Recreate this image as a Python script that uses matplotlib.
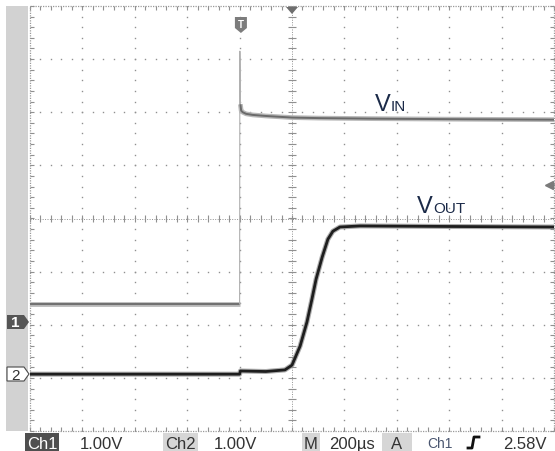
import numpy as np
import matplotlib.pyplot as plt
from matplotlib.patches import Polygon, Rectangle
from matplotlib.lines import Line2D

W, H = 555, 452

# scope settings
US_PER_DIV = 200
V_PER_DIV = 1.0
CH1_POS = -1.95     # ground marker position in divisions
CH2_POS = -2.93
TRIG_TIME = 805     # us
TRIG_LEVEL = 2.58   # V on Ch1

# Ch1 (VIN), time in us, volts above ground
vin_t = [0, 800, 801, 803, 806, 812, 825, 850, 900, 1000, 1100, 1300, 1600, 2000]
vin_v = [0.34, 0.34, 5.10, 4.10, 3.98, 3.95, 3.92, 3.90, 3.88, 3.85, 3.84, 3.83, 3.82, 3.81]

# Ch2 (VOUT)
vout_t = [0, 800, 803, 900, 973, 1000, 1031, 1057, 1076, 1092, 1115, 1137, 1156, 1183, 1260, 1600, 2000]
vout_v = [0.0, 0.0, 0.06, 0.05, 0.08, 0.17, 0.53, 0.98, 1.41, 1.79, 2.20, 2.54, 2.69, 2.77, 2.79, 2.78, 2.77]

status_labels = ["1.00V", "1.00V", "200µs", "2.58V"]

GRID = '#909090'
FONT = ['Liberation Sans', 'DejaVu Sans']


def px(x, y):
    return x / W, 1 - y / H


def box(fig, x0, y0, x1, y1, color, **kw):
    fig.patches.append(Rectangle(px(x0, y1), (x1 - x0) / W, (y1 - y0) / H,
                                 transform=fig.transFigure, facecolor=color,
                                 edgecolor='none', **kw))


def poly(fig, pts, face, edge='none'):
    fig.patches.append(Polygon([px(x, y) for x, y in pts], closed=True,
                               transform=fig.transFigure, facecolor=face,
                               edgecolor=edge, linewidth=0.8))


fig = plt.figure(figsize=(W / 100, H / 100), dpi=100)
ax = fig.add_axes([30 / W, 20 / H, 524 / W, 425 / H])
ax.set_xlim(0, 10 * US_PER_DIV)
ax.set_ylim(-4, 4)
ax.axis('off')

# graticule
xs = np.arange(0, 10 * US_PER_DIV + 1, US_PER_DIV / 5)
ys = np.arange(-4, 4.01, 0.2)
for k in range(1, 10):
    if k == 5:
        continue
    ax.plot([k * US_PER_DIV] * len(ys), ys, ls='none', marker='s', ms=1.0,
            mew=0, color=GRID)
for j in range(-3, 4):
    if j == 0:
        continue
    ax.plot(xs, [j] * len(xs), ls='none', marker='s', ms=1.0, mew=0, color=GRID)

# center lines with ticks
ax.axhline(0, ls=(0, (1, 1.5)), lw=0.7, color=GRID)
ax.axvline(5 * US_PER_DIV, ls=(0, (1, 1.5)), lw=0.7, color=GRID)
ax.vlines(xs, -0.07, 0.07, lw=0.8, color=GRID)
ax.hlines(ys, 5 * US_PER_DIV - 14, 5 * US_PER_DIV + 14, lw=0.8, color=GRID)

# border with ticks
for yb, d in [(4, -0.07), (-4, 0.07)]:
    ax.plot([0, 2000], [yb, yb], ls=(0, (1, 1)), lw=0.9, color='#9a9a9a', clip_on=False)
    ax.vlines(xs, yb, yb + d, lw=0.8, color=GRID, clip_on=False)
for xb, d in [(0, 14), (2000, -14)]:
    ax.plot([xb, xb], [-4, 4], ls=(0, (1, 1)), lw=0.9, color='#9a9a9a', clip_on=False)
    ax.hlines(ys, xb, xb + d, lw=0.8, color=GRID, clip_on=False)

# traces
vin_y = np.array(vin_v) / V_PER_DIV + CH1_POS
vout_y = np.array(vout_v) / V_PER_DIV + CH2_POS

ax.plot(vin_t[:2], vin_y[:2], color='#b8b8b8', lw=3.4, solid_capstyle='butt')
ax.plot(vin_t[:2], vin_y[:2], color='#707070', lw=1.4, solid_capstyle='butt')
ax.plot(vin_t[1:4], vin_y[1:4], color='#b0b0b0', lw=0.8)
ax.plot(vin_t[3:], vin_y[3:], color='#b8b8b8', lw=3.4, solid_capstyle='butt')
ax.plot(vin_t[3:], vin_y[3:], color='#6a6a6a', lw=1.4, solid_capstyle='butt')

ax.plot(vout_t, vout_y, color='#8a8a8a', lw=3.6, alpha=0.7, solid_capstyle='butt')
ax.plot(vout_t, vout_y, color='#1e1e1e', lw=2.0, solid_capstyle='butt')

# trigger level arrow on right edge
ax.plot([1982, 2000], [TRIG_LEVEL / V_PER_DIV + CH1_POS] * 2, color='#7a7a7a',
        lw=1.2, clip_on=False)
ax.plot([1982], [TRIG_LEVEL / V_PER_DIV + CH1_POS], marker='<', ms=6,
        color='#7a7a7a', clip_on=False)

# trigger marker "T" and trigger position triangle
xT = 30 + TRIG_TIME / US_PER_DIV * 52.4
poly(fig, [(xT - 6, 18), (xT + 6, 18), (xT + 6, 29), (xT, 34), (xT - 6, 29)], '#7c7c7c')
fig.text(*px(xT, 25), "T", fontsize=7, color='white', ha='center', va='center',
         family=FONT, weight='bold')
poly(fig, [(286, 8), (298, 8), (292, 15)], '#6e6e6e')

# left panel and ground markers
box(fig, 6, 7, 28, 432, '#d2d2d2')
poly(fig, [(7, 316), (24, 316), (29, 323), (24, 330), (7, 330)], '#555555')
fig.text(*px(15, 323.5), "1", fontsize=11, color='white', ha='center', va='center',
         family=FONT, weight='bold')
poly(fig, [(7, 368), (24, 368), (29, 375), (24, 382), (7, 382)], 'white', '#4a4a4a')
fig.text(*px(15, 375.5), "2", fontsize=11, color='#333333', ha='center', va='center',
         family=FONT)

# trace labels
lbl = '#1b2a48'
fig.text(*px(375, 111), "V", fontsize=17, color=lbl, va='baseline', family=FONT)
fig.text(*px(391, 111), "IN", fontsize=11, color=lbl, va='baseline', family=FONT)
fig.text(*px(417, 213), "V", fontsize=17, color=lbl, va='baseline', family=FONT)
fig.text(*px(433, 213), "OUT", fontsize=11, color=lbl, va='baseline', family=FONT)

# status bar
box(fig, 25, 434, 59, 452, '#4f4f4f')
fig.text(*px(42, 449), "Ch1", fontsize=12, color='white', ha='center', va='baseline', family=FONT)
fig.text(*px(80, 449), status_labels[0], fontsize=12, color='#333333', va='baseline', family=FONT)
box(fig, 163, 434, 198, 452, '#d6d6d6')
fig.text(*px(180.5, 449), "Ch2", fontsize=12, color='#333333', ha='center', va='baseline', family=FONT)
fig.text(*px(214, 449), status_labels[1], fontsize=12, color='#333333', va='baseline', family=FONT)
box(fig, 302, 434, 320, 452, '#d6d6d6')
fig.text(*px(311, 449), "M", fontsize=12, color='#333333', ha='center', va='baseline', family=FONT)
fig.text(*px(329, 449), status_labels[2], fontsize=12, color='#333333', va='baseline', family=FONT)
box(fig, 382, 434, 412, 452, '#d6d6d6')
fig.text(*px(397, 449), "A", fontsize=12, color='#333333', ha='center', va='baseline', family=FONT)
fig.text(*px(427, 448), "Ch1", fontsize=10, color='#4a5670', va='baseline', family=FONT)
edge = [px(468, 449), px(472, 449), px(474, 438), px(479, 438)]
fig.lines.append(Line2D([p[0] for p in edge], [p[1] for p in edge], transform=fig.transFigure,
                        color='#111111', lw=2.0))
fig.text(*px(503, 449), status_labels[3], fontsize=12, color='#333333', va='baseline', family=FONT)

fig.savefig('out.png', dpi=100)
